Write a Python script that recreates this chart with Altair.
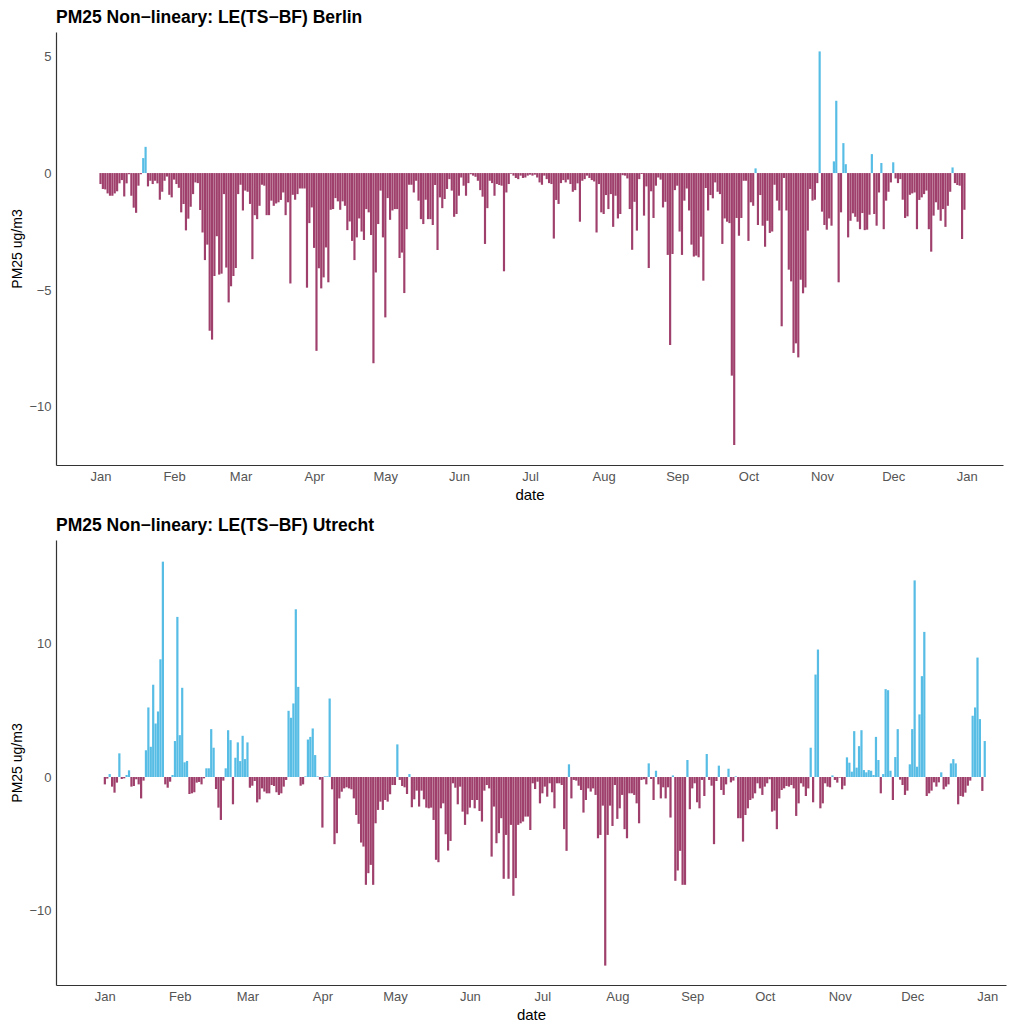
import altair as alt
import numpy as np
import pandas as pd

YEAR = 2019

# Daily PM2.5 non-linearity LE(TS-BF), Berlin, one list per month (ug/m3)
berlin_jan = [-0.47, -0.68, -0.70, -0.87, -0.97, -0.97, -0.87, -0.78, -0.44, -0.30, -1.00, -0.44, -0.05, -0.97, -1.48, -1.70,
              -0.54, -0.05, 0.64, 1.12, -0.57, -0.33, -0.47, -0.33, -0.44, -1.14, -0.80, -0.33, -0.15, -0.93, -1.04]
berlin_feb = [-0.28, -0.47, -0.63, -1.68, -1.32, -2.45, -1.95, -1.44, -0.90, -0.40, -0.43, -1.58, -2.54, -3.72, -3.06, -6.74,
              -7.12, -4.40, -2.70, -4.34, -4.30, -0.90, -4.04, -5.53, -4.84, -4.40, -4.06, -0.90]
berlin_mar = [-0.50, -1.60, -0.75, -0.80, -1.32, -3.68, -1.80, -1.97, -1.40, -0.50, -0.54, -1.80, -1.80, -1.18, -1.40, -1.30,
              -1.25, -1.15, -0.83, -1.80, -1.25, -4.72, -0.93, -1.14, -0.90, -0.66, -0.66, -0.66, -4.90, -2.14, -1.47]
berlin_apr = [-3.20, -7.60, -4.07, -4.93, -4.46, -3.18, -4.67, -1.57, -1.54, -1.07, -1.21, -1.57, -1.21, -1.40, -2.44, -2.07,
              -2.90, -3.72, -2.75, -1.94, -2.50, -2.86, -1.54, -1.68, -2.65, -8.13, -4.25, -2.18, -0.75, -2.75]
berlin_may = [-6.17, -1.07, -2.00, -1.60, -1.54, -1.54, -3.63, -3.40, -5.13, -2.40, -0.50, -0.50, -0.83, -0.33, -1.18, -1.97,
              -2.18, -1.14, -1.97, -1.97, -2.22, -0.51, -3.29, -1.04, -1.50, -1.11, -0.68, -0.26, -0.75, -1.87, -1.75]
berlin_jun = [-0.97, -0.19, -0.54, -0.97, -0.43, -0.05, -0.11, -0.16, -0.33, -0.73, -1.01, -3.03, -1.50, -0.33, -0.43, -0.97,
              -0.47, -0.51, -0.54, -4.20, -0.83, -0.47, -0.03, -0.11, -0.21, -0.26, -0.11, -0.21, -0.19, -0.11]
berlin_jul = [-0.07, -0.11, -0.07, -0.19, -0.40, -0.50, -0.11, -0.26, -0.43, -0.47, -2.80, -1.15, -1.32, -0.43, -0.30, -0.40,
              -0.28, -0.47, -0.80, -0.73, -0.44, -2.08, -0.33, -0.26, -0.11, -0.21, -0.30, -0.36, -2.54, -0.47, -1.68]
berlin_aug = [-1.75, -0.94, -1.54, -0.90, -2.30, -0.97, -1.94, -1.75, -0.09, -0.11, -0.23, -1.54, -3.28, -1.23, -2.46, -0.26,
              -0.04, -1.82, -0.57, -4.06, -0.78, -1.92, -0.54, -0.19, -0.28, -1.47, -1.23, -3.50, -7.35, -3.46, -0.73]
berlin_sep = [-0.54, -2.50, -3.50, -1.18, -0.66, -1.60, -3.06, -3.57, -3.53, -3.60, -2.72, -4.60, -0.64, -1.60, -0.94, -1.08,
              -0.40, -0.80, -0.90, -3.03, -1.94, -2.08, -2.14, -8.66, -11.62, -1.92, -2.68, -1.92, -0.33, -0.33]
berlin_oct = [-2.90, -1.25, -1.40, 0.20, -2.22, -0.94, -2.25, -3.15, -2.04, -2.56, -2.50, -0.50, -1.18, -1.60, -6.55, -0.21,
              -1.60, -4.13, -4.63, -7.69, -7.28, -7.88, -4.56, -5.14, -4.89, -2.46, -0.68, -1.18, -1.14, -0.43, 5.20]
berlin_nov = [-1.65, -2.22, -2.42, -1.94, -2.25, 0.50, 3.09, -4.67, -1.68, 1.28, 0.38, -2.75, -2.04, -1.72, -1.87, -2.08,
              -2.40, -1.71, -2.44, -2.42, -1.78, 0.81, -1.75, -2.25, -0.83, 0.43, -2.40, -1.18, -0.80, -0.40]
berlin_dec = [0.46, -0.23, -0.43, -0.26, -1.14, -1.92, -1.85, -0.93, -0.87, -0.83, -2.40, -1.15, -1.04, -0.90, -0.75, -2.40,
              -3.36, -1.82, -1.25, -1.57, -2.04, -1.54, -2.30, -1.40, -0.80, 0.24, -0.43, -0.51, -0.54, -2.82, -1.57]

# Same quantity for Utrecht
utrecht_jan = [-0.55, -0.12, 0.22, -0.72, -1.17, -0.42, 1.77, -0.15, -0.10, 0.15, 0.50, -0.72, -0.67, -0.17, -0.55, -1.60,
               -0.27, 2.00, 5.20, 2.26, 6.90, 4.00, 4.90, 8.80, 16.10, -0.55, -0.80, -0.35, 0.15, 2.69, 11.97]
utrecht_feb = [3.13, 6.67, 1.10, 1.20, -1.27, -1.22, -1.14, -0.42, -0.37, -0.55, -0.10, 0.65, 0.65, 3.58, 2.19, -0.90,
               -2.29, -3.21, -0.27, 0.65, 3.50, 2.76, -2.04, 1.44, 2.59, 1.19, 3.08, 1.34]
utrecht_mar = [2.59, -0.80, -0.65, -0.30, -1.90, -1.67, -0.85, -1.09, -1.22, -1.22, -0.60, -0.67, -1.14, -1.34, -1.22, -0.72,
               -0.22, 4.95, 4.43, 5.50, 12.54, 6.74, -0.65, -0.55, 0.05, 2.80, 3.00, 3.63, 1.64, 0.05, -0.20]
utrecht_apr = [-3.78, 0.05, 0.05, 5.87, -0.92, -5.02, -4.20, -1.60, -1.10, -0.85, -0.77, -0.85, -0.92, -1.60, -2.84, -3.50,
               -4.90, -5.20, -8.06, -7.19, -6.57, -8.06, -3.46, -2.46, -1.84, -2.46, -1.72, -1.84, -1.29, -0.60]
utrecht_may = [-0.60, 2.44, -0.22, -0.67, -0.77, -1.27, 0.22, -2.26, -1.67, -1.02, -2.21, -1.02, -1.67, -2.29, -2.34, -2.29,
               -3.21, -6.19, -6.37, -2.34, -1.97, -4.28, -5.50, -4.78, -0.47, -0.80, -2.04, -0.72, -2.59, -3.58, -2.79]
utrecht_jun = [-2.29, -1.72, -2.34, -1.72, -2.54, -3.33, -1.02, -0.60, -0.85, -5.95, -2.21, -4.95, -4.20, -3.08, -7.61, -4.33,
               -7.61, -3.58, -8.88, -7.56, -3.58, -3.46, -3.33, -2.96, -2.96, -3.96, -0.47, -0.90, -0.35, -1.97]
utrecht_jul = [-1.22, -0.72, -1.47, -0.47, -1.14, -2.34, -0.47, -0.47, -0.60, -3.90, -5.52, 0.95, -1.60, -0.22, -0.27, -0.65,
               -0.97, -2.66, -1.72, -0.85, -1.09, -0.85, -1.34, -4.58, -4.33, -2.14, -14.10, -4.33, -2.14, -3.66, -0.60]
utrecht_aug = [-3.13, -2.34, -1.34, -3.90, -4.58, -1.22, -1.22, -1.34, -1.97, -3.46, -0.22, -0.17, -0.55, 1.02, -0.15, -1.72,
               0.47, -0.55, -1.60, -0.77, -1.60, -0.77, -3.03, 0.12, -7.76, -6.99, -5.52, -8.06, -8.06, 1.27, -2.41]
utrecht_sep = [-0.85, -0.47, -1.89, -2.34, -0.22, -1.42, 1.72, -0.22, -0.65, -5.02, -0.30, 0.85, -0.97, -1.34, -0.55, 0.62,
               -0.40, -0.27, 0.05, -3.08, -3.08, -4.83, -2.84, -2.34, -1.72, -1.60, -1.22, -0.47, -0.85, -1.34]
utrecht_oct = [-0.72, -0.47, -0.17, -2.59, -2.51, -3.90, -1.60, -0.97, -0.85, -0.67, -0.72, -0.60, -0.85, -2.91, -1.97, -0.47,
               -0.72, -1.42, -0.85, 2.19, -1.89, 7.66, 9.53, -2.34, -1.97, -0.47, -0.72, -0.77, 0.12, -0.22, -0.42]
utrecht_nov = [-0.05, -0.92, -0.65, 1.47, 1.07, 0.40, 3.43, 0.70, 2.31, 3.50, 0.52, 0.35, 0.52, 0.47, 0.15, 3.00,
               1.27, -1.22, 0.22, 6.57, 6.49, 0.47, -1.72, 1.49, 3.58, -0.20, -0.60, -1.34, -1.02, 0.95]
utrecht_dec = [3.58, 14.70, 0.77, 4.68, 7.54, 10.85, -1.42, -1.22, -1.02, -0.40, -0.72, -0.40, 0.35, -0.92, -0.72, -0.55,
               1.02, 1.34, 1.02, -2.04, -1.42, -1.47, -1.17, -0.65, -0.27, 4.58, 5.20, 8.93, 4.33, -1.04, 2.69]

berlin = (berlin_jan + berlin_feb + berlin_mar + berlin_apr + berlin_may + berlin_jun +
          berlin_jul + berlin_aug + berlin_sep + berlin_oct + berlin_nov + berlin_dec)
utrecht = (utrecht_jan + utrecht_feb + utrecht_mar + utrecht_apr + utrecht_may + utrecht_jun +
           utrecht_jul + utrecht_aug + utrecht_sep + utrecht_oct + utrecht_nov + utrecht_dec)

BLUE = "#3AB2E0"
MAROON = "#8E1F52"
FONT = "Liberation Sans"


def daily_frame(values):
    dates = pd.date_range(f"{YEAR}-01-01", periods=len(values), freq="D")
    df = pd.DataFrame({"date": dates, "value": values})
    half = pd.Timedelta(hours=11)
    df["start"] = df["date"] - half
    df["end"] = df["date"] + half
    df["sign"] = np.where(df["value"] >= 0, "pos", "neg")
    return df


month_ticks = [alt.DateTime(year=YEAR, month=m, date=1) for m in range(1, 13)] + [
    alt.DateTime(year=YEAR + 1, month=1, date=1)
]


def panel(df, title, x_dom, y_dom, y_ticks, width, height):
    return (
        alt.Chart(df)
        .mark_bar(opacity=0.85)
        .encode(
            x=alt.X(
                "start:T",
                title="date",
                scale=alt.Scale(domain=x_dom, nice=False),
                axis=alt.Axis(values=month_ticks, format="%b", labelAngle=0),
            ),
            x2="end:T",
            y=alt.Y(
                "value:Q",
                title="PM25 ug/m3",
                scale=alt.Scale(domain=y_dom, nice=False, zero=False),
                axis=alt.Axis(values=y_ticks, titleFontSize=14),
            ),
            y2=alt.datum(0),
            color=alt.Color(
                "sign:N",
                scale=alt.Scale(domain=["neg", "pos"], range=[MAROON, BLUE]),
                legend=None,
            ),
        )
        .properties(
            width=width,
            height=height,
            title=alt.TitleParams(
                title, anchor="start", frame="group", fontSize=17.5, fontWeight="bold",
                font=FONT, color="black", offset=6,
            ),
        )
    )


top = panel(
    daily_frame(berlin),
    "PM25 Non\u2212lineary: LE(TS\u2212BF) Berlin",
    [alt.DateTime(year=YEAR - 1, month=12, date=13, hours=6),
     alt.DateTime(year=YEAR + 1, month=1, date=16, hours=6)],
    [-12.48, 6.03],
    [-10, -5, 0, 5],
    947,
    433,
)

bottom = panel(
    daily_frame(utrecht),
    "PM25 Non\u2212lineary: LE(TS\u2212BF) Utrecht",
    [alt.DateTime(year=YEAR - 1, month=12, date=11, hours=19),
     alt.DateTime(year=YEAR + 1, month=1, date=8, hours=19)],
    [-15.55, 17.72],
    [-10, 0, 10],
    950,
    445,
)

chart = (
    alt.vconcat(top, bottom, spacing=14)
    .properties(padding={"left": 10, "top": 8, "right": 5, "bottom": 5})
    .configure_view(stroke=None)
    .configure_axis(
        domainColor="#333333",
        domainWidth=1.2,
        ticks=False,
        grid=False,
        labelColor="#555555",
        labelFontSize=13,
        labelFont=FONT,
        labelPadding=5,
        titleFont=FONT,
        titleFontSize=15,
        titleFontWeight="normal",
        titleColor="black",
        titlePadding=4,
    )
)

chart.save("out.html", embed_options={"renderer": "svg", "actions": False})
